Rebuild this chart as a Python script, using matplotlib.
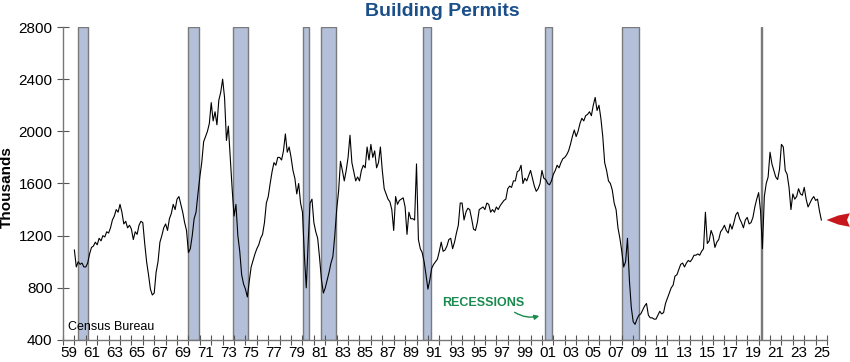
import matplotlib
matplotlib.use('Agg')

import numpy as np
import matplotlib.pyplot as plt
import pandas as pd
from matplotlib.patches import Polygon

plt.rcParams['font.family'] = ['Liberation Sans', 'DejaVu Sans']

# Building permits, thousands (SAAR), read every two months: Jan Mar May Jul Sep Nov
permits = [
    1090, 960, 1000, 980, 990, 960,      # 1960
    960, 990, 1060, 1110, 1120, 1150,    # 1961
    1130, 1180, 1160, 1200, 1190, 1230,  # 1962
    1220, 1260, 1320, 1350, 1400, 1380,  # 1963
    1440, 1380, 1290, 1310, 1260, 1280,  # 1964
    1250, 1170, 1230, 1210, 1280, 1310,  # 1965
    1300, 1140, 1000, 900, 790, 745,     # 1966
    760, 920, 1000, 1150, 1200, 1260,    # 1967
    1290, 1240, 1330, 1370, 1440, 1400,  # 1968
    1480, 1500, 1440, 1380, 1300, 1240,  # 1969
    1070, 1100, 1200, 1330, 1380, 1520,  # 1970
    1650, 1760, 1920, 1960, 2000, 2060,  # 1971
    2220, 2080, 2150, 2050, 2240, 2300,  # 1972
    2400, 2260, 1930, 2040, 1800, 1560,  # 1973
    1350, 1440, 1200, 1080, 900, 830,    # 1974
    790, 730, 850, 960, 1010, 1060,      # 1975
    1100, 1130, 1180, 1210, 1300, 1450,  # 1976
    1500, 1600, 1690, 1760, 1740, 1800,  # 1977
    1800, 1780, 1850, 1980, 1840, 1880,  # 1978
    1800, 1700, 1640, 1520, 1600, 1450,  # 1979
    1380, 1050, 800, 1150, 1450, 1480,   # 1980
    1300, 1230, 1180, 1030, 860, 760,    # 1981
    800, 860, 920, 990, 1040, 1200,      # 1982
    1400, 1540, 1770, 1700, 1620, 1700,  # 1983
    1800, 1970, 1760, 1690, 1620, 1650,  # 1984
    1620, 1700, 1740, 1720, 1880, 1780,  # 1985
    1900, 1800, 1850, 1720, 1760, 1880,  # 1986
    1700, 1560, 1520, 1480, 1460, 1400,  # 1987
    1240, 1500, 1440, 1470, 1480, 1490,  # 1988
    1420, 1210, 1380, 1330, 1330, 1320,  # 1989
    1750, 1170, 1100, 1070, 1000, 900,   # 1990
    790, 860, 950, 980, 1000, 1020,      # 1991
    1080, 1150, 1080, 1090, 1120, 1170,  # 1992
    1180, 1100, 1150, 1220, 1280, 1450,  # 1993
    1450, 1320, 1380, 1410, 1400, 1330,  # 1994
    1250, 1240, 1300, 1400, 1410, 1420,  # 1995
    1400, 1450, 1440, 1380, 1400, 1380,  # 1996
    1420, 1400, 1430, 1450, 1470, 1480,  # 1997
    1560, 1580, 1570, 1620, 1620, 1690,  # 1998
    1700, 1740, 1600, 1640, 1620, 1660,  # 1999
    1700, 1640, 1580, 1540, 1560, 1600,  # 2000
    1700, 1640, 1630, 1600, 1590, 1620,  # 2001
    1670, 1700, 1740, 1720, 1760, 1790,  # 2002
    1800, 1820, 1850, 1900, 1960, 2010,  # 2003
    1960, 2000, 2060, 2100, 2080, 2120,  # 2004
    2130, 2150, 2120, 2200, 2260, 2160,  # 2005
    2200, 2100, 1960, 1760, 1700, 1620,  # 2006
    1600, 1550, 1450, 1400, 1260, 1180,  # 2007
    1080, 960, 1000, 1180, 860, 650,     # 2008
    540, 520, 560, 590, 600, 630,        # 2009
    660, 680, 590, 570, 570, 560,        # 2010
    560, 590, 620, 600, 610, 680,        # 2011
    720, 760, 800, 820, 890, 900,        # 2012
    940, 980, 990, 960, 990, 1010,       # 2013
    1000, 1020, 1050, 1050, 1060, 1050,  # 2014
    1080, 1100, 1380, 1140, 1160, 1240,  # 2015
    1200, 1110, 1150, 1170, 1230, 1250,  # 2016
    1280, 1240, 1220, 1290, 1250, 1300,  # 2017
    1360, 1380, 1330, 1300, 1260, 1320,  # 2018
    1340, 1290, 1300, 1340, 1420, 1480,  # 2019
    1530, 1390, 1100, 1500, 1600, 1650,  # 2020
    1840, 1750, 1700, 1650, 1630, 1710,  # 2021
    1900, 1880, 1700, 1670, 1570, 1400,  # 2022
    1520, 1480, 1500, 1560, 1520, 1510,  # 2023
    1570, 1480, 1420, 1450, 1480, 1500,  # 2024
    1470, 1480, 1390, 1320,              # 2025
]
dates = pd.date_range('1960-01-01', periods=len(permits), freq='2MS')

# NBER recessions: peak month, trough month
rec_start = ['1960-04', '1969-12', '1973-11', '1980-01', '1981-07',
             '1990-07', '2001-03', '2007-12', '2020-02']
rec_end = ['1961-02', '1970-11', '1975-03', '1980-07', '1982-11',
           '1991-03', '2001-11', '2009-06', '2020-04']

year_labels = [f'{y % 100:02d}' for y in range(1959, 2026, 2)]


def dec_year(d):
    d = pd.to_datetime(d)
    return d.year + (d.month - 1) / 12


def month_end(s):
    d = pd.to_datetime(s)
    return d.year + d.month / 12


x = np.array([dec_year(d) for d in dates])

fig = plt.figure(figsize=(8.5, 3.62), dpi=100)
ax = fig.add_axes([0.0741, 0.0608, 0.8989, 0.8646])

for s, e in zip(rec_start, rec_end):
    ax.axvspan(month_end(s), month_end(e), facecolor='#b4c0da',
               edgecolor='#7a7a7a', linewidth=1, zorder=1)

ax.plot(x, permits, color='black', linewidth=0.8, zorder=3)

ax.set_xlim(1959, 2026)
ax.set_ylim(400, 2800)
ax.set_yticks(range(400, 2801, 400))

ax.set_xticks(range(1959, 2027))
ax.set_xticklabels([])
ax.set_xticks([y + 0.5 for y in range(1959, 2026, 2)], minor=True)
ax.set_xticklabels(year_labels, minor=True)
ax.tick_params(axis='x', which='major', direction='inout', length=7,
               color='#555555', width=0.8)
ax.tick_params(axis='x', which='minor', length=0, pad=4, labelsize=11)
ax.tick_params(axis='y', direction='inout', length=9, color='#555555',
               width=0.8, pad=3, labelsize=11)

for side in ['top', 'right']:
    ax.spines[side].set_visible(False)
for side in ['left', 'bottom']:
    ax.spines[side].set_color('#777777')
    ax.spines[side].set_linewidth(1)

ax.set_ylabel('Thousands', fontsize=11, fontweight='bold')
ax.yaxis.set_label_coords(-0.064, 0.49)
fig.text(0.52, 0.967, 'Building Permits', fontsize=14, fontweight='bold',
         color='#1b4f8a', ha='center', va='center')

ax.text(1959.4, 496, 'Census Bureau', fontsize=9, va='center', ha='left')

ax.text(1995.85, 685, 'RECESSIONS', fontsize=9, fontweight='bold',
        color='#1a8a4f', ha='center', va='center')
ax.annotate('', xy=(2001.0, 590), xytext=(1998.4, 624),
            arrowprops=dict(arrowstyle='-|>', color='#1a8a4f', lw=1,
                            mutation_scale=7,
                            connectionstyle='arc3,rad=0.25'))

# red pointer on right side at latest value
last = permits[-1]
ax.add_patch(Polygon([(2025.95, last), (2027.0, last + 35), (2028.0, last + 52),
                      (2027.75, last), (2028.0, last - 52), (2027.0, last - 35)],
                     closed=True, facecolor='#c8161d', edgecolor='none',
                     clip_on=False, zorder=4))

fig.savefig('out.png', dpi=100)
